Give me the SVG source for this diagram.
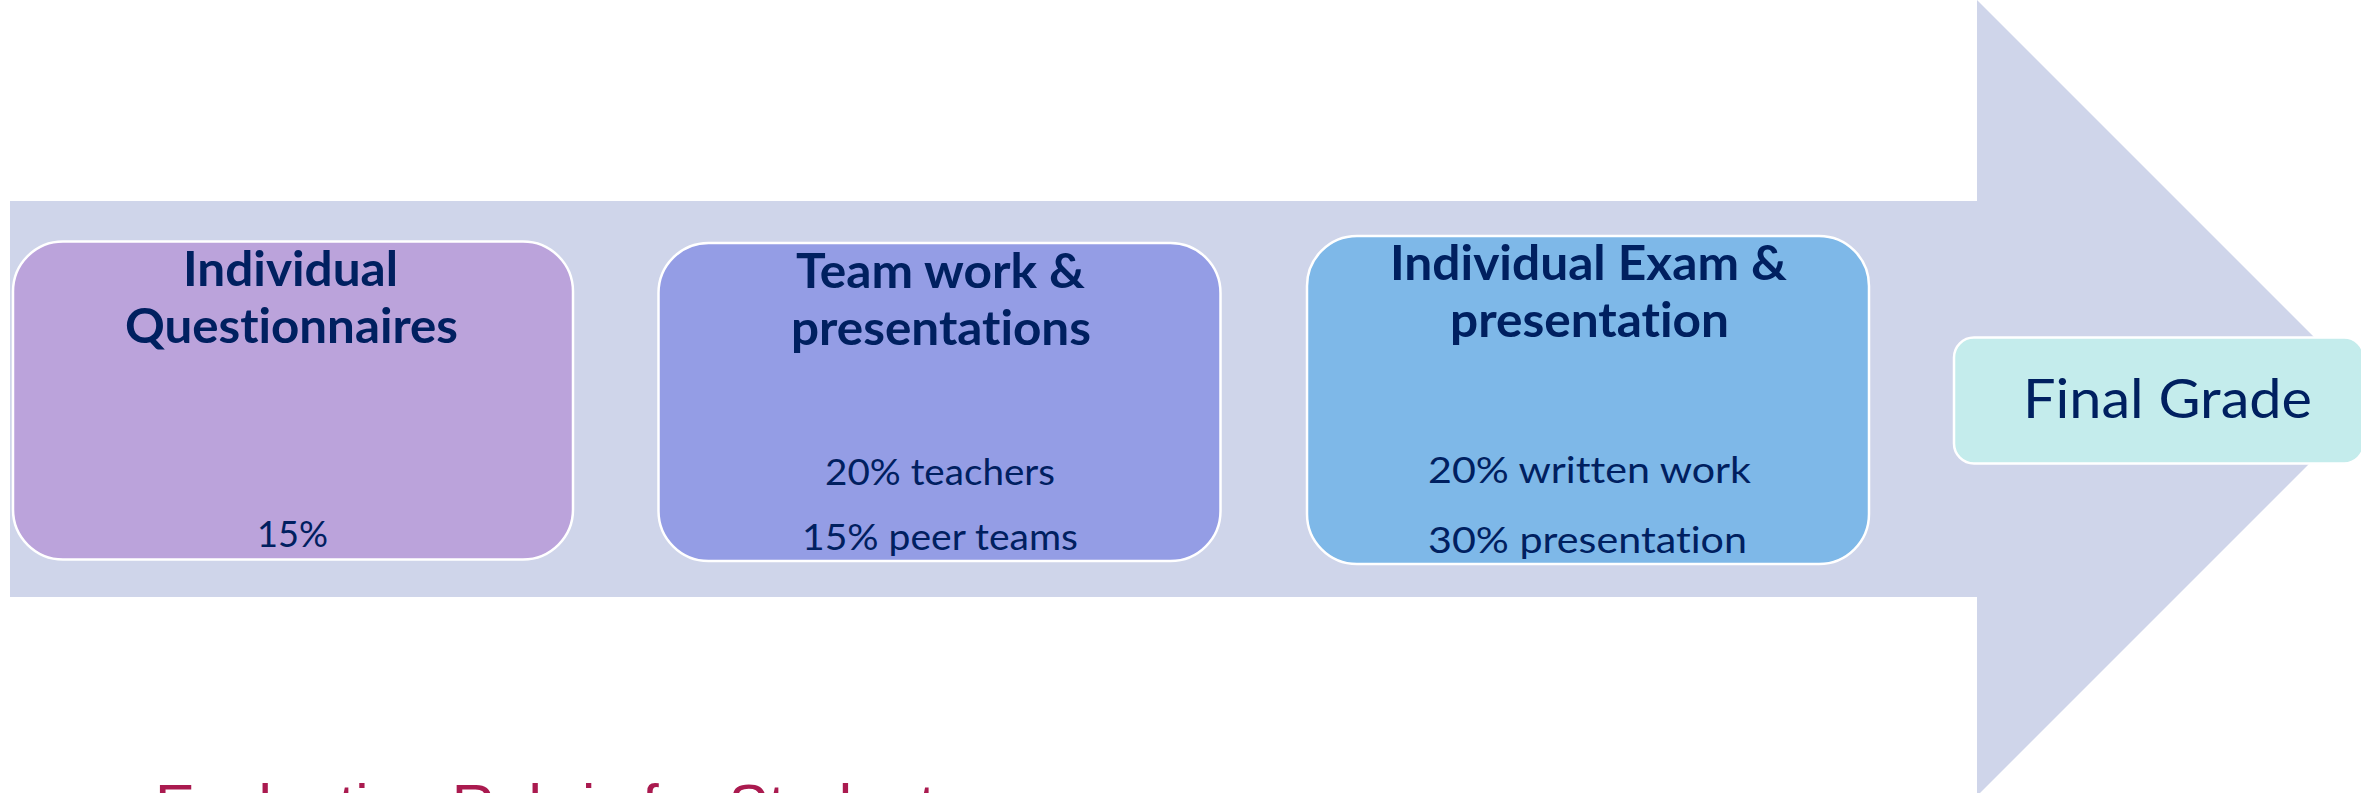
<svg xmlns="http://www.w3.org/2000/svg" width="2361" height="793" viewBox="0 0 2361 793">
  <style>
    text { font-variant-ligatures: none; font-feature-settings: "liga" 0, "dlig" 0; }
    .box { stroke: #FFFFFF; stroke-width: 2.5; }
    .title { font-family: Lato, "Open Sans", "Liberation Sans", sans-serif; font-weight: bold; font-size: 48px; fill: #002060; }
    .detail { font-family: Lato, "Open Sans", "Liberation Sans", sans-serif; font-size: 36.5px; fill: #002060; }
    .final { font-family: Lato, "Open Sans", "Liberation Sans", sans-serif; font-size: 55px; fill: #002060; }
    .caption { font-family: "Liberation Sans", Arial, sans-serif; font-size: 60px; fill: #AA1A4F; }
  </style>
  <rect x="0" y="0" width="2361" height="793" fill="#FFFFFF"/>
  <g id="process-arrow">
    <polygon points="10,201 1977,201 1977,0 2375,398 1977,796 1977,597 10,597" fill="#CFD5EA"/>
  </g>
  <g id="connectors"/>
  <g id="node-questionnaires">
    <rect class="box" x="13" y="241.5" width="560" height="318" rx="50" ry="50" fill="#BBA3DB"/>
    <text class="title" x="183" y="286" textLength="215" lengthAdjust="spacingAndGlyphs">Individual</text>
    <text class="title" x="125" y="343" textLength="333" lengthAdjust="spacingAndGlyphs">Questionnaires</text>
    <text class="detail" x="257" y="547" textLength="71" lengthAdjust="spacingAndGlyphs">15%</text>
  </g>
  <g id="node-teamwork">
    <rect class="box" x="658.5" y="243" width="562" height="318" rx="50" ry="50" fill="#949DE5"/>
    <text class="title" x="796" y="288" textLength="289" lengthAdjust="spacingAndGlyphs">Team work &amp;</text>
    <text class="title" x="791" y="345" textLength="300" lengthAdjust="spacingAndGlyphs">presentations</text>
    <text class="detail" x="825" y="485" textLength="230" lengthAdjust="spacingAndGlyphs">20% teachers</text>
    <text class="detail" x="802" y="550" textLength="276" lengthAdjust="spacingAndGlyphs">15% peer teams</text>
  </g>
  <g id="node-exam">
    <rect class="box" x="1307" y="236" width="562" height="328" rx="50" ry="50" fill="#7EB8E8"/>
    <text class="title" x="1390" y="280" textLength="397" lengthAdjust="spacingAndGlyphs">Individual Exam &amp;</text>
    <text class="title" x="1450" y="336.5" textLength="279" lengthAdjust="spacingAndGlyphs">presentation</text>
    <text class="detail" x="1428" y="483" textLength="323" lengthAdjust="spacingAndGlyphs">20% written work</text>
    <text class="detail" x="1428" y="552.5" textLength="319" lengthAdjust="spacingAndGlyphs">30% presentation</text>
  </g>
  <g id="node-final-grade">
    <rect class="box" x="1954" y="337.5" width="410" height="126" rx="20" ry="20" fill="#C4ECEC"/>
    <text class="final" x="2023" y="418" textLength="289" lengthAdjust="spacingAndGlyphs">Final Grade</text>
  </g>
  <g id="caption">
    <text class="caption" x="155" y="826">Evaluation Rubric for Students</text>
  </g>
</svg>
